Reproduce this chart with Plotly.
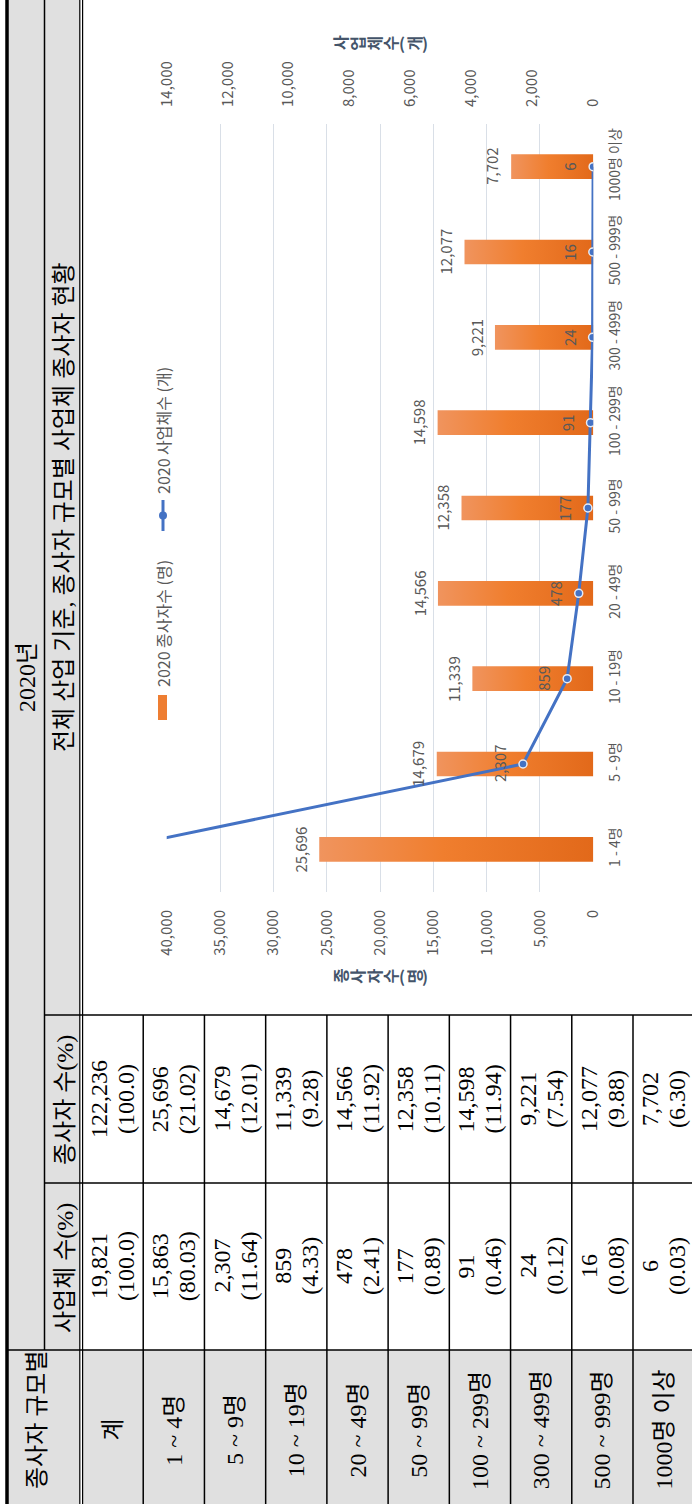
import plotly.graph_objects as go

W, H = 692, 1504

# chart data
categories = ["1 - 4명", "5 - 9명", "10 - 19명", "20 - 49명", "50 - 99명",
              "100 - 299명", "300 - 499명", "500 - 999명", "1000명 이상"]
workers = [25696, 14679, 11339, 14566, 12358, 14598, 9221, 12077, 7702]
firms = [15863, 2307, 859, 478, 177, 91, 24, 16, 6]

# table data
row_labels = ["계", "1 ~ 4명", "5 ~ 9명", "10 ~ 19명", "20 ~ 49명", "50 ~ 99명",
              "100 ~ 299명", "300 ~ 499명", "500 ~ 999명", "1000명 이상"]
firm_counts = ["19,821", "15,863", "2,307", "859", "478", "177", "91", "24", "16", "6"]
firm_shares = ["(100.0)", "(80.03)", "(11.64)", "(4.33)", "(2.41)", "(0.89)",
               "(0.46)", "(0.12)", "(0.08)", "(0.03)"]
worker_counts = ["122,236", "25,696", "14,679", "11,339", "14,566", "12,358",
                 "14,598", "9,221", "12,077", "7,702"]
worker_shares = ["(100.0)", "(21.02)", "(12.01)", "(9.28)", "(11.92)", "(10.11)",
                 "(11.94)", "(7.54)", "(9.88)", "(6.30)"]

BAR_COLORS = [[0, "#F0945E"], [0.45, "#F07E2E"], [1, "#E2691A"]]
LINE_COLOR = "#4472C4"
GRID = "#D9DFE7"
TEXT = "#595959"
SERIF = "Liberation Serif, Noto Sans CJK KR"
SANS = "Noto Sans CJK KR, Noto Sans"


def px(x):
    return x / W


def py(y):
    return 1 - y / H


fig = go.Figure()

# bars (horizontal, growing to the left) with a gradient fill
half = 0.145
for i, v in enumerate(workers):
    fig.add_trace(go.Scatter(
        x=[0, v, v, 0], y=[i - half, i - half, i + half, i + half],
        fill="toself", mode="lines", line=dict(width=0),
        fillgradient=dict(type="horizontal", colorscale=BAR_COLORS),
        hoverinfo="skip", showlegend=False,
    ))

fig.add_trace(go.Scatter(
    x=firms, y=list(range(len(firms))), xaxis="x2", yaxis="y",
    mode="lines+markers", line=dict(color=LINE_COLOR, width=3),
    marker=dict(size=8, color=LINE_COLOR, line=dict(color="#E8ECF4", width=1.5)),
    showlegend=False,
))

annotations = []

# data labels
for i, v in enumerate(workers):
    annotations.append(dict(x=v, y=i, xref="x", yref="y", text=f"{v:,}", textangle=-90,
                            showarrow=False, xshift=-19, font=dict(size=15, color=TEXT)))
for i, n in enumerate(firms):
    if n > 14000:
        continue
    annotations.append(dict(x=n, y=i, xref="x2", yref="y", text=f"{n:,}", textangle=-90,
                            showarrow=False, xshift=-23, font=dict(size=15, color=TEXT)))


def ptext(x, y, text, size=24, family=SERIF, color="black", angle=-90, bold=False):
    if bold:
        text = f"<b>{text}</b>"
    annotations.append(dict(x=px(x), y=py(y), xref="paper", yref="paper", text=text,
                            textangle=angle, showarrow=False, xanchor="center", yanchor="middle",
                            font=dict(size=size, family=family, color=color)))


# axis titles, characters stacked
def stacked(title, cx, y, size=16):
    widths = [size * 0.4 if c in "()" else size * 1.05 for c in title]
    x = cx - sum(widths) / 2
    for c, w in zip(title, widths):
        ptext(x + w / 2, y, c, size=size, family=SANS, color="#44546A",
              angle=0 if c in "()" else -90, bold=True)
        x += w


stacked("종사자수(명)", 380, 976)
stacked("사업체수(개)", 380, 43)

# legend
ptext(163, 624, "2020 종사자수 (명)", size=16, family=SANS, color=TEXT)
ptext(163, 431, "2020 사업체수 (개)", size=16, family=SANS, color=TEXT)

# table headers
ptext(27, 677, "2020년")
ptext(64, 507, "전체 산업 기준, 종사자 규모별 사업체 종사자 현황")
ptext(65, 1100, "종사자 수(%)")
ptext(65, 1268, "사업체 수(%)")
ptext(37, 1420, "종사자 규모별")

row_w = (633 - 82) / 9
for k in range(len(row_labels)):
    cx = 82 + row_w * (k + 0.5)
    ptext(cx - 13.5, 1099, worker_counts[k])
    ptext(cx + 13.5, 1099, worker_shares[k])
    ptext(cx - 13.5, 1266, firm_counts[k])
    ptext(cx + 13.5, 1266, firm_shares[k])
    ptext(cx, 1430, row_labels[k])

shapes = []


def rect(x0, y0, x1, y1, fill):
    shapes.append(dict(type="rect", xref="paper", yref="paper", x0=px(x0), x1=px(x1),
                       y0=py(y0), y1=py(y1), fillcolor=fill, line=dict(width=0), layer="below"))


def seg(x0, y0, x1, y1, width=1.5, color="black"):
    shapes.append(dict(type="line", xref="paper", yref="paper", x0=px(x0), x1=px(x1),
                       y0=py(y0), y1=py(y1), line=dict(color=color, width=width)))


rect(7, 0, 80, H, "#E0E0E0")
rect(82, 1350, W, H, "#E0E0E0")
seg(7, 0, 7, H, width=3.5)
seg(44.5, 0, 44.5, 1350)
seg(79.8, 0, 79.8, H, width=1.2)
seg(82.6, 0, 82.6, H, width=1.2)
seg(44.5, 1015, W, 1015)
seg(44.5, 1183, W, 1183)
seg(7, 1350, W, 1350)
for k in range(1, 10):
    xk = 82 + row_w * k
    seg(xk, 1015, xk, H)

# legend swatches
shapes.append(dict(type="rect", xref="paper", yref="paper", x0=px(158), x1=px(167),
                   y0=py(720), y1=py(695), fillcolor="#EE7E32", line=dict(width=0)))
seg(163, 500, 163, 531, width=3, color=LINE_COLOR)
shapes.append(dict(type="circle", xref="paper", yref="paper", x0=px(159), x1=px(167),
                   y0=py(519.5), y1=py(511.5), fillcolor=LINE_COLOR, line=dict(width=0)))

fig.update_layout(
    width=W, height=H, margin=dict(l=0, r=0, t=0, b=0, pad=0),
    paper_bgcolor="white", plot_bgcolor="white", showlegend=False,
    font=dict(family=SANS, color=TEXT, size=14),
    xaxis=dict(domain=[px(166.7), px(593.3)], range=[40000, 0], dtick=5000, tick0=0,
               tickformat=",", tickangle=-90, showgrid=True, gridcolor=GRID, gridwidth=1,
               zeroline=False, showline=False, ticks="", anchor="y", automargin=False,
               ticklabelstandoff=14, tickfont=dict(size=15, color=TEXT)),
    xaxis2=dict(overlaying="x", side="top", range=[14000, 0], dtick=2000, tick0=0,
                tickformat=",", tickangle=-90, showgrid=False, zeroline=False,
                showline=False, ticks="", anchor="y", ticklabelstandoff=16, automargin=False,
                tickfont=dict(size=15, color=TEXT)),
    yaxis=dict(domain=[py(892), py(124)], range=[-0.5, 8.5], tickvals=list(range(9)),
               ticktext=categories, tickangle=-90, side="right", showgrid=False,
               zeroline=False, showline=False, ticks="", anchor="x", automargin=False,
               ticklabelstandoff=12, tickfont=dict(size=14, color=TEXT)),
    annotations=annotations,
    shapes=shapes,
)

fig.write_html(
    "out.html",
    config={"displayModeBar": False},
    post_script="document.body.style.margin='0';document.body.style.overflow='hidden';",
)
